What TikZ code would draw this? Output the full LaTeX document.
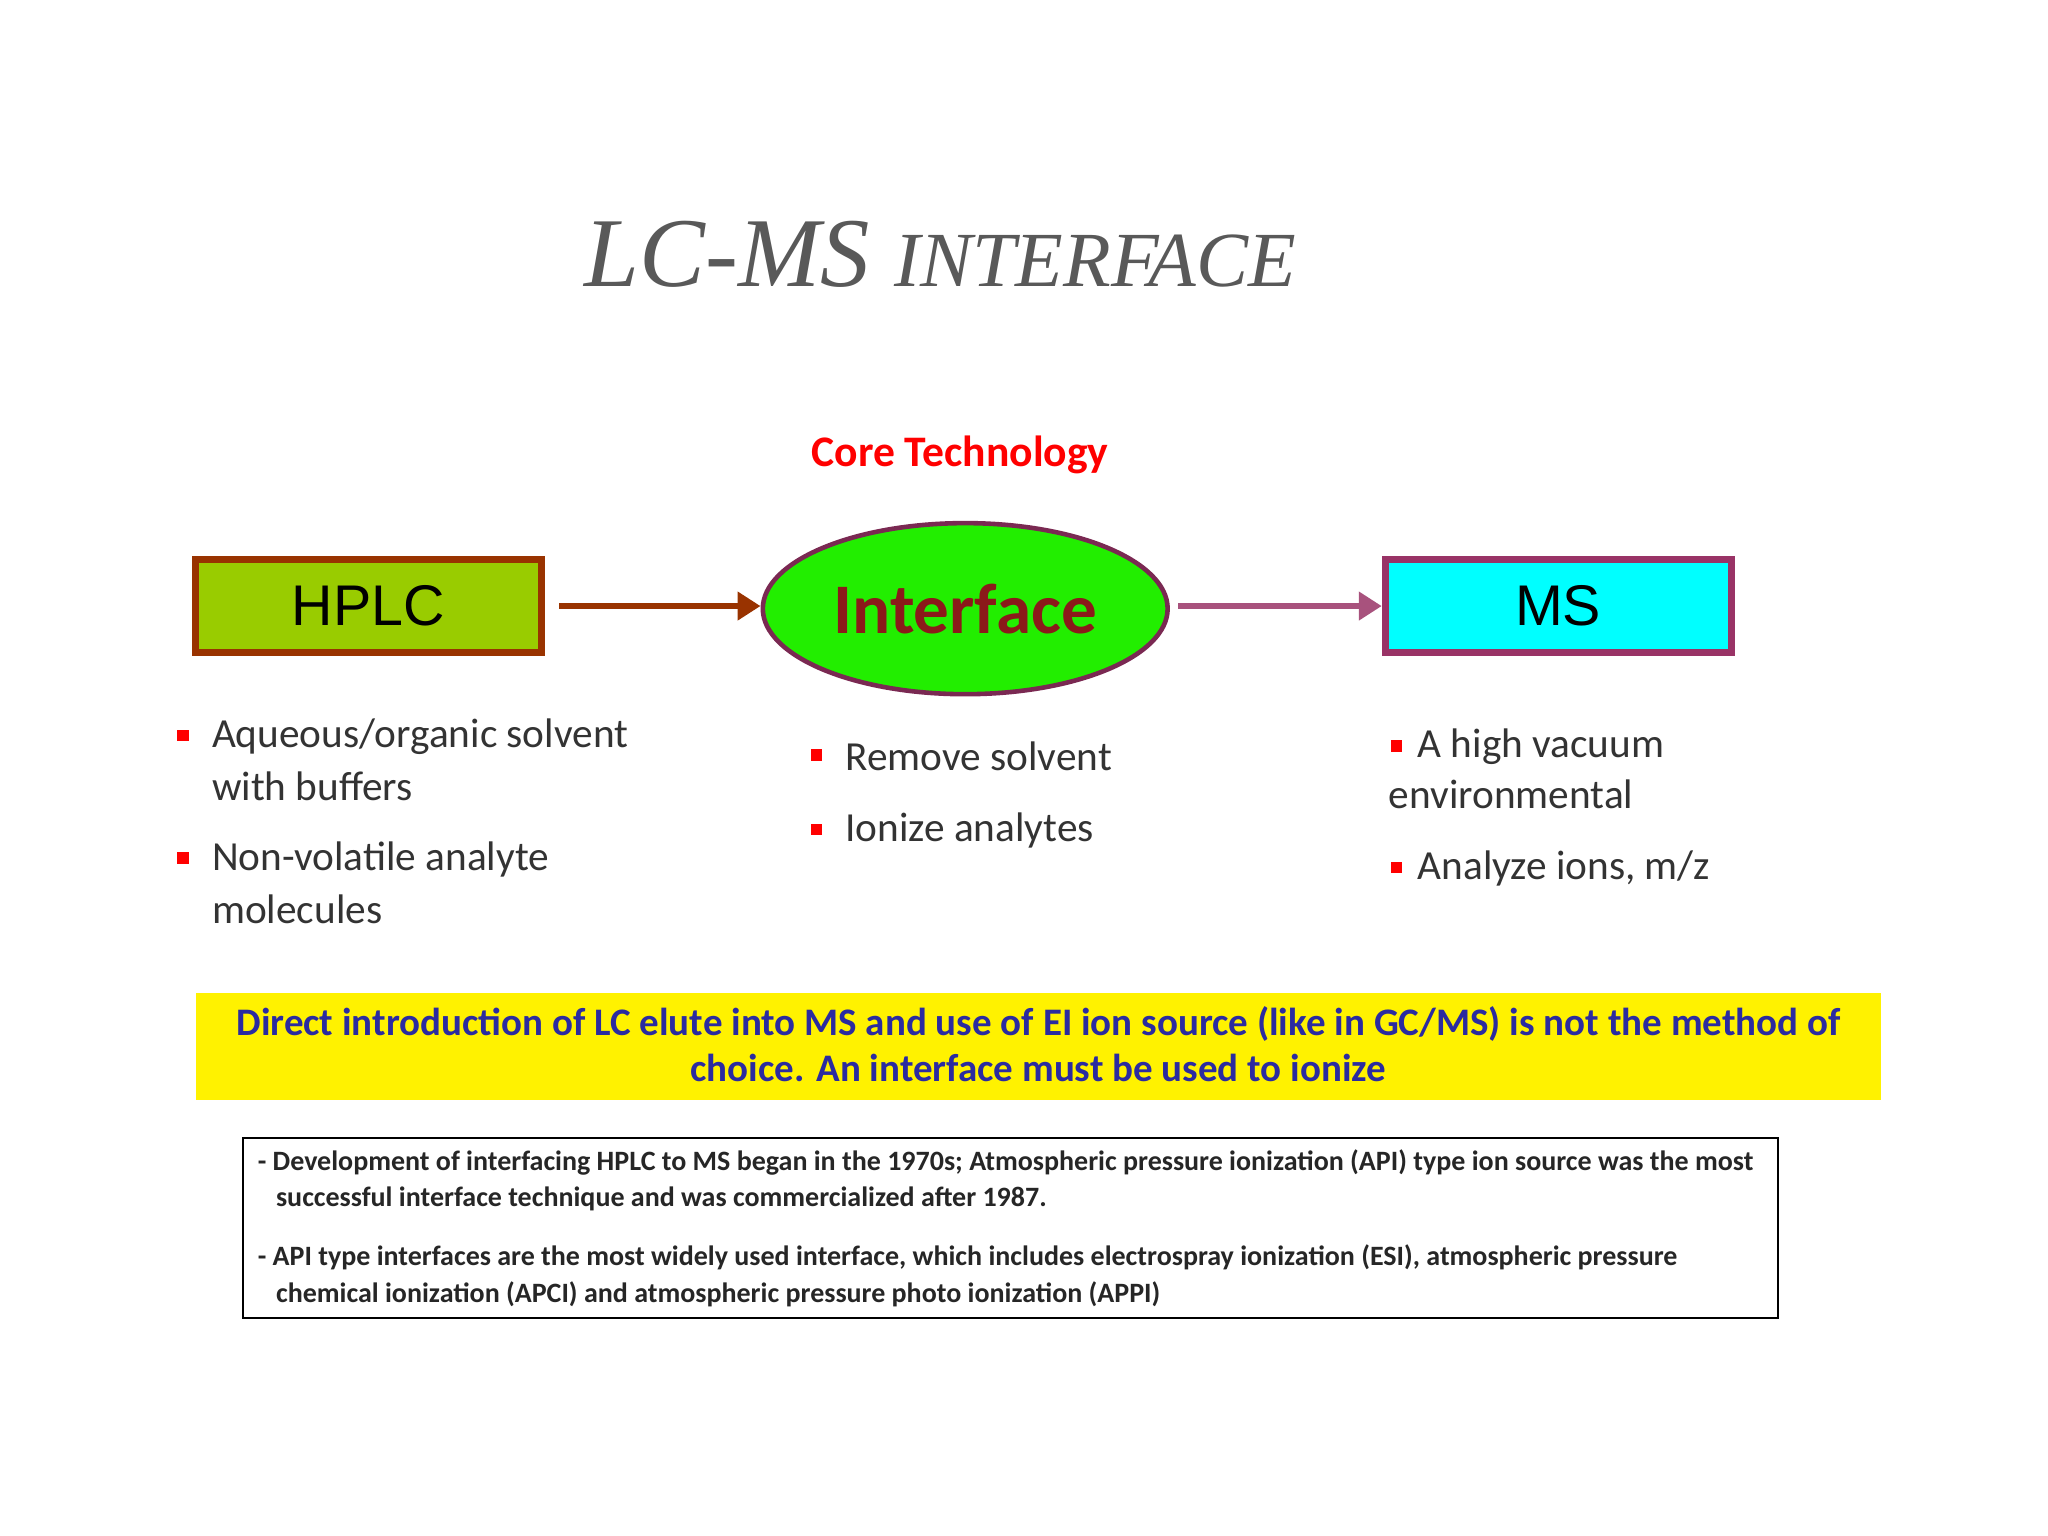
\documentclass[tikz,border=0pt]{standalone}
\usepackage{fontspec}
\setmainfont{Carlito}
\newfontfamily\arialf{Liberation Sans}
\newfontfamily\serifx{Liberation Serif}
\usetikzlibrary{arrows.meta,shapes.geometric}
\definecolor{hgreen}{HTML}{99CC00}
\definecolor{brownb}{HTML}{993300}
\definecolor{plum}{HTML}{993366}
\definecolor{ellg}{HTML}{22EE00}
\definecolor{cyanx}{HTML}{00FFFF}
\definecolor{darkred}{HTML}{8B1A1A}
\definecolor{navy}{HTML}{2B2BA0}
\tikzset{
  bul/.style={anchor=west,font=\fontsize{18}{22}\selectfont,text=black!80,inner sep=0},
  sq/.style={fill=red,minimum size=5pt,inner sep=0},
  note/.style={anchor=west,font=\fontsize{12.2}{14}\selectfont\bfseries,text=black!85,inner sep=0},
}
\begin{document}
\begin{tikzpicture}[x=0.02cm,y=-0.02cm]
\useasboundingbox[fill=white] (0,0) rectangle (1568,1176);
\node[font=\serifx\itshape\fontsize{43}{50}\selectfont,text=black!65] (title) at (720,195) {LC-MS {\fontsize{34}{40}\selectfont INTERFACE}};
\node[font=\bfseries\fontsize{19}{22}\selectfont,text=red] (core) at (735,348) {Core Technology};
\node[draw=brownb,line width=3pt,fill=hgreen,minimum width=5.3cm,minimum height=1.42cm,font=\arialf\fontsize{25}{30}\selectfont] (hplc) at (282,464) {HPLC};
\node[ellipse,draw=plum!80!black,line width=2pt,fill=ellg,minimum width=6.2cm,minimum height=2.62cm,font=\bfseries\fontsize{31}{36}\selectfont,text=darkred] (int) at (739,466) {Interface};
\node[draw=plum,line width=3pt,fill=cyanx,minimum width=5.3cm,minimum height=1.42cm,font=\arialf\fontsize{25}{30}\selectfont] (ms) at (1193,464) {MS};
\coordinate (a1) at (428,464);
\coordinate (a2) at (902,464);
\draw[brownb,line width=3pt,-{Triangle[length=10pt,width=12pt]}] (a1) -- (a1 -| int.west);
\draw[plum!85,line width=3pt,-{Triangle[length=10pt,width=12pt]}] (a2) -- (a2 -| ms.west);
% left bullets
\node[sq] (b1) at (140,563) {}; \node[bul] (t1) at (162,564) {Aqueous/organic solvent};
\node[bul] (t1b) at (162,602) {with buffers};
\node[sq] (b2) at (140,657) {}; \node[bul] (t2) at (162,658) {Non-volatile analyte};
\node[bul] (t2b) at (162,696) {molecules};
% middle
\node[sq] (b3) at (625,578) {}; \node[bul] (t3) at (647,579) {Remove solvent};
\node[sq] (b4) at (625,635) {}; \node[bul] (t4) at (647,636) {Ionize analytes};
% right
\node[sq] (b5) at (1069,571) {}; \node[bul] (t5) at (1085,572) {A high vacuum};
\node[bul] (t5b) at (1063,608) {environmental};
\node[sq] (b6) at (1069,664) {}; \node[bul] (t6) at (1085,665) {Analyze ions, m/z};
% yellow
\fill[yellow] (150,760) rectangle (1440,842);
\node[font=\bfseries\fontsize{17}{21}\selectfont,text=navy] (y1) at (795,784) {Direct introduction of LC elute into MS and use of EI ion source (like in GC/MS) is not the method of};
\node[font=\bfseries\fontsize{17}{21}\selectfont,text=navy] (y2) at (795,818) {choice. An interface must be used to ionize};
% bottom box
\draw[line width=0.8pt] (186,871) rectangle (1361,1009);
\node[note] (n1) at (197,890) {- Development of interfacing HPLC to MS began in the 1970s; Atmospheric pressure ionization (API) type ion source was the most};
\node[note] (n2) at (211,918) {successful interface technique and was commercialized after 1987.};
\node[note] (n3) at (197,963) {- API type interfaces are the most widely used interface, which includes electrospray ionization (ESI), atmospheric pressure};
\node[note] (n4) at (211,991) {chemical ionization (APCI) and atmospheric pressure photo ionization (APPI)};
\end{tikzpicture}
\end{document}
